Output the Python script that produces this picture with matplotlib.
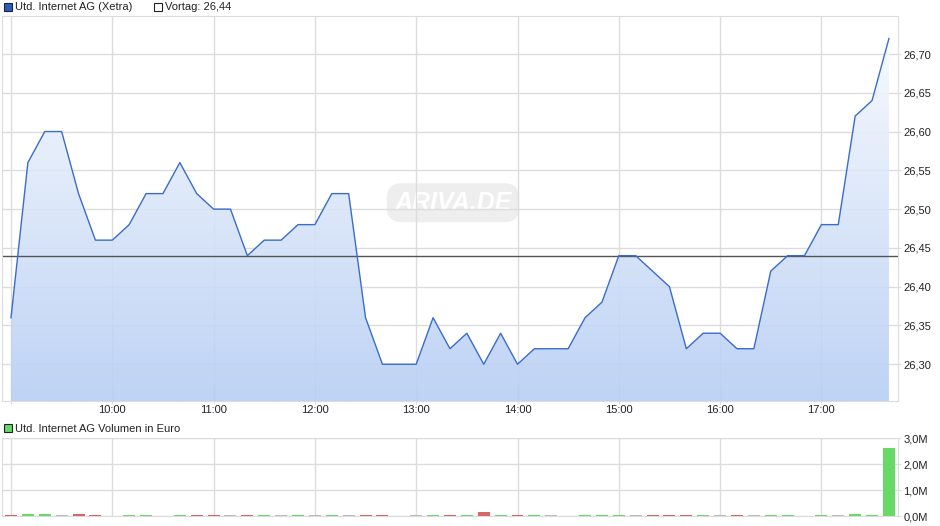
import numpy as np
import matplotlib
matplotlib.use("Agg")
import matplotlib.pyplot as plt
from matplotlib.colors import LinearSegmentedColormap
from matplotlib.patches import Rectangle

plt.rcParams['font.family'] = ['Liberation Sans', 'DejaVu Sans']

# ==========================================
# DATA (10-Minuten-Werte, 09:00 - 17:40)
# ==========================================
start_hour = 9.0
step_hours = 1 / 6

prices = [26.36, 26.56, 26.60, 26.60, 26.52, 26.46,
          26.46, 26.48, 26.52, 26.52, 26.56, 26.52,
          26.50, 26.50, 26.44, 26.46, 26.46, 26.48,
          26.48, 26.52, 26.52, 26.36, 26.30, 26.30,
          26.30, 26.36, 26.32, 26.34, 26.30, 26.34,
          26.30, 26.32, 26.32, 26.32, 26.36, 26.38,
          26.44, 26.44, 26.42, 26.40, 26.32, 26.34,
          26.34, 26.32, 26.32, 26.42, 26.44, 26.44,
          26.48, 26.48, 26.62, 26.64, 26.72]

# Volumen in Mio. Euro
volume = [0.04, 0.07, 0.07, 0.04, 0.07, 0.04,
          0.0, 0.04, 0.04, 0.0, 0.04, 0.04,
          0.04, 0.04, 0.04, 0.04, 0.04, 0.04,
          0.04, 0.04, 0.04, 0.04, 0.04, 0.0,
          0.04, 0.04, 0.04, 0.04, 0.14, 0.04,
          0.04, 0.04, 0.04, 0.0, 0.04, 0.055,
          0.04, 0.055, 0.04, 0.04, 0.04, 0.04,
          0.04, 0.04, 0.04, 0.04, 0.055, 0.0,
          0.055, 0.04, 0.09, 0.055, 2.60]

vortag = 26.44
hour_ticks = [10, 11, 12, 13, 14, 15, 16, 17]
price_ticks = [26.30, 26.35, 26.40, 26.45, 26.50, 26.55, 26.60, 26.65, 26.70]
vol_ticks = [0.0, 1.0, 2.0, 3.0]

times = start_hour + step_hours * np.arange(len(prices))
prices = np.array(prices)

# Farbe je nach Kursveraenderung
prev = np.concatenate([[vortag], prices[:-1]])
bar_colors = np.where(prices > prev + 1e-9, '#66d966',
                      np.where(prices < prev - 1e-9, '#d96666', '#bbbbbb'))

# ==========================================
# LAYOUT
# ==========================================
W, H = 940, 526
fig = plt.figure(figsize=(W / 100, H / 100), dpi=100)

def px_axes(x0, y0, x1, y1):
    return fig.add_axes([x0 / W, 1 - y1 / H, (x1 - x0) / W, (y1 - y0) / H])

grid_col = '#dcdcdc'
text_col = '#222222'

x_min = start_hour - 8.7 / 101.3
x_max = start_hour + (898.3 - 11) / 101.3

ax = px_axes(2.3, 16, 898.3, 401)
axv = px_axes(2.3, 438, 898.3, 516)

# ==========================================
# KURS
# ==========================================
y_min, y_max = 26.2526, 26.749
ax.set_xlim(x_min, x_max)
ax.set_ylim(y_min, y_max)
ax.set_axisbelow(True)

ax.set_xticks([start_hour] + hour_ticks)
ax.set_xticklabels([''] + ["%d:00" % h for h in hour_ticks])
ax.set_yticks(price_ticks)
ax.set_yticklabels([("%.2f" % v).replace('.', ',') for v in price_ticks])
ax.yaxis.tick_right()
ax.grid(True, color=grid_col, linewidth=1)
ax.tick_params(axis='y', length=2.5, color=grid_col, labelsize=8,
               labelcolor=text_col, pad=1)
ax.tick_params(axis='x', length=2.5, color=grid_col, labelsize=8,
               labelcolor=text_col, pad=0.5)
for s in ax.spines.values():
    s.set_color(grid_col)

# Verlauf unter der Kurve
cmap = LinearSegmentedColormap.from_list('fill', ['#b7cef4', '#fafcff'])
grad = np.linspace(0, 1, 256).reshape(-1, 1)
poly = ax.fill_between(times, prices, y_min, facecolor='none', edgecolor='none')
im = ax.imshow(grad, cmap=cmap, aspect='auto', origin='lower',
               extent=[x_min, x_max, y_min, y_max], zorder=1, alpha=0.9)
im.set_clip_path(poly.get_paths()[0], transform=ax.transData)
ax.set_xlim(x_min, x_max)
ax.set_ylim(y_min, y_max)

ax.plot(times, prices, color='#3a6cc9', linewidth=1.0, zorder=3)
ax.axhline(vortag, color='#555555', linewidth=1, zorder=2.5)

# Wasserzeichen
ax.text(0.503, 0.515, "ARIVA.DE", transform=ax.transAxes, ha='center',
        va='center', fontsize=18, fontstyle='italic', fontweight='bold',
        color='white', zorder=0.3,
        bbox=dict(boxstyle='round,pad=0.3,rounding_size=0.6',
                  facecolor='#eeeeee', edgecolor='none'))

# ==========================================
# VOLUMEN
# ==========================================
axv.set_xlim(x_min, x_max)
axv.set_ylim(0, 3.0)
axv.set_axisbelow(True)
axv.bar(times, volume, width=step_hours * 0.71, color=bar_colors, zorder=3,
        antialiased=False)
axv.set_xticks([start_hour] + hour_ticks)
axv.set_xticklabels([])
axv.set_yticks(vol_ticks)
axv.set_yticklabels([("%.1fM" % v).replace('.', ',') for v in vol_ticks])
axv.yaxis.tick_right()
axv.grid(True, color=grid_col, linewidth=1)
axv.tick_params(axis='y', length=2.5, color=grid_col, labelsize=8,
                labelcolor=text_col, pad=1)
axv.tick_params(axis='x', length=0)
for s in axv.spines.values():
    s.set_color(grid_col)
    s.set_zorder(2)

# ==========================================
# LEGENDEN
# ==========================================
def legend_box(x, y, face):
    fig.add_artist(Rectangle((x / W, 1 - (y + 8) / H), 8 / W, 8 / H,
                             transform=fig.transFigure, facecolor=face,
                             edgecolor='#222222', linewidth=0.8))

legend_box(3.5, 3, '#2a5cbf')
fig.text(15 / W, 1 - 7.5 / H, "Utd. Internet AG (Xetra)", fontsize=8,
         color=text_col, va='center', ha='left')
legend_box(153.5, 3, 'white')
fig.text(165 / W, 1 - 7.5 / H, "Vortag: 26,44", fontsize=8,
         color=text_col, va='center', ha='left')

legend_box(3.5, 424, '#66d966')
fig.text(15 / W, 1 - 428.5 / H, "Utd. Internet AG Volumen in Euro",
         fontsize=8, color=text_col, va='center', ha='left')

fig.savefig("out.png", dpi=100)
